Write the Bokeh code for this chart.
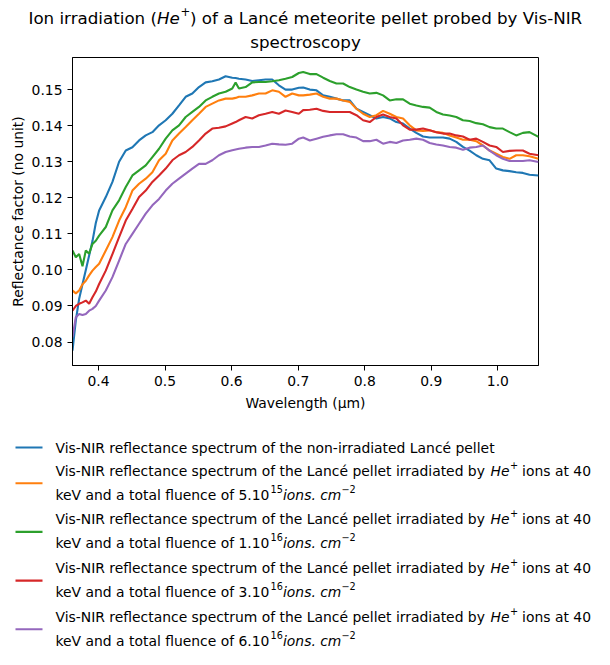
from bokeh.plotting import figure
from bokeh.models import Range1d, FixedTicker, PrintfTickFormatter
from bokeh.layouts import column
from bokeh.core.properties import value
from bokeh.embed import file_html
from bokeh.resources import INLINE

# ---------------- data ----------------
wavelength = [0.361, 0.366, 0.371, 0.376, 0.381, 0.386, 0.391, 0.396,
              0.401, 0.411, 0.421, 0.431, 0.441, 0.451, 0.461, 0.471, 0.481, 0.491,
              0.501, 0.511, 0.521, 0.531, 0.541, 0.551, 0.561, 0.571, 0.581, 0.591, 0.601,
              0.606,
              0.611, 0.621, 0.631, 0.641, 0.651, 0.661, 0.671, 0.681, 0.691, 0.701,
              0.7075, 0.7175, 0.7275, 0.7375, 0.7475, 0.7575, 0.7675, 0.7775, 0.7875, 0.7975,
              0.8075, 0.8175, 0.8275, 0.8375, 0.8475, 0.8575, 0.8675, 0.8775, 0.8875, 0.8975,
              0.9075, 0.9175, 0.9275, 0.9375, 0.9475, 0.9575, 0.9675, 0.9775, 0.9875, 0.9975,
              1.0075, 1.0175, 1.0275, 1.0375, 1.0475,
              1.061]

refl_pristine = [0.0776, 0.0860, 0.0920, 0.0960, 0.1000, 0.1040, 0.1080, 0.1130,
                 0.1165, 0.1202, 0.1244, 0.1300, 0.1331, 0.1340, 0.1359, 0.1373, 0.1382, 0.1401,
                 0.1415, 0.1433, 0.1456, 0.1480, 0.1489, 0.1507, 0.1520, 0.1523, 0.1528, 0.1537, 0.1533,
                 0.1532,
                 0.1530, 0.1528, 0.1524, 0.1526, 0.1528, 0.1528, 0.1512, 0.1500, 0.1500, 0.1505,
                 0.1506, 0.1500, 0.1498, 0.1484, 0.1480, 0.1475, 0.1470, 0.1470, 0.1447, 0.1438,
                 0.1429, 0.1420, 0.1424, 0.1420, 0.1410, 0.1406, 0.1392, 0.1380, 0.1370, 0.1367,
                 0.1367, 0.1367, 0.1364, 0.1355, 0.1341, 0.1331, 0.1318, 0.1308, 0.1304, 0.1281,
                 0.1276, 0.1274, 0.1271, 0.1269, 0.1264,
                 0.1262]

refl_5e15 = [0.0943, 0.0935, 0.0943, 0.0960, 0.0970, 0.0985, 0.0998, 0.1008,
             0.1017, 0.1054, 0.1091, 0.1137, 0.1174, 0.1220, 0.1239, 0.1253, 0.1271, 0.1304,
             0.1322, 0.1359, 0.1378, 0.1396, 0.1415, 0.1433, 0.1452, 0.1461, 0.1470, 0.1475, 0.1475,
             0.1477,
             0.1480, 0.1480, 0.1484, 0.1489, 0.1489, 0.1498, 0.1494, 0.1480, 0.1489, 0.1484,
             0.1484, 0.1486, 0.1489, 0.1480, 0.1475, 0.1475, 0.1470, 0.1466, 0.1447, 0.1433,
             0.1424, 0.1429, 0.1441, 0.1433, 0.1424, 0.1420, 0.1401, 0.1387, 0.1385, 0.1387,
             0.1382, 0.1380, 0.1373, 0.1367, 0.1361, 0.1361, 0.1357, 0.1345, 0.1331, 0.1322,
             0.1313, 0.1308, 0.1318, 0.1318, 0.1315,
             0.1308]

refl_1e16 = [0.1054, 0.1035, 0.1044, 0.1010, 0.1054, 0.1045, 0.1072, 0.1081,
             0.1095, 0.1119, 0.1165, 0.1193, 0.1230, 0.1262, 0.1276, 0.1290, 0.1313, 0.1336,
             0.1364, 0.1387, 0.1401, 0.1424, 0.1438, 0.1452, 0.1470, 0.1480, 0.1489, 0.1494, 0.1503,
             0.1520,
             0.1503, 0.1507, 0.1520, 0.1521, 0.1521, 0.1523, 0.1526, 0.1530, 0.1535, 0.1546,
             0.1549, 0.1543, 0.1543, 0.1533, 0.1524, 0.1517, 0.1517, 0.1507, 0.1500, 0.1494,
             0.1489, 0.1491, 0.1484, 0.1470, 0.1473, 0.1473, 0.1461, 0.1456, 0.1452, 0.1450,
             0.1438, 0.1431, 0.1428, 0.1424, 0.1415, 0.1413, 0.1407, 0.1404, 0.1396, 0.1392,
             0.1392, 0.1382, 0.1373, 0.1380, 0.1382,
             0.1369]

refl_3e16 = [0.0887, 0.0900, 0.0906, 0.0910, 0.0915, 0.0906, 0.0924, 0.0940,
             0.0961, 0.0998, 0.1044, 0.1091, 0.1137, 0.1169, 0.1202, 0.1220, 0.1244, 0.1262,
             0.1281, 0.1304, 0.1318, 0.1327, 0.1341, 0.1359, 0.1378, 0.1392, 0.1394, 0.1398, 0.1406,
             0.1410,
             0.1415, 0.1424, 0.1420, 0.1429, 0.1433, 0.1438, 0.1433, 0.1442, 0.1438, 0.1433,
             0.1443, 0.1444, 0.1447, 0.1441, 0.1438, 0.1438, 0.1438, 0.1438, 0.1429, 0.1415,
             0.1410, 0.1424, 0.1431, 0.1424, 0.1420, 0.1401, 0.1389, 0.1389, 0.1392, 0.1387,
             0.1382, 0.1378, 0.1378, 0.1373, 0.1370, 0.1361, 0.1364, 0.1355, 0.1345, 0.1341,
             0.1327, 0.1330, 0.1331, 0.1331, 0.1322,
             0.1318]

refl_6e16 = [0.0813, 0.0869, 0.0878, 0.0875, 0.0878, 0.0887, 0.0892, 0.0900,
             0.0915, 0.0943, 0.0980, 0.1026, 0.1072, 0.1100, 0.1128, 0.1156, 0.1179, 0.1197,
             0.1220, 0.1239, 0.1253, 0.1267, 0.1281, 0.1294, 0.1294, 0.1304, 0.1318, 0.1327, 0.1332,
             0.1334,
             0.1336, 0.1339, 0.1341, 0.1341, 0.1345, 0.1350, 0.1348, 0.1347, 0.1350, 0.1364,
             0.1367, 0.1359, 0.1364, 0.1369, 0.1373, 0.1376, 0.1376, 0.1370, 0.1367, 0.1357,
             0.1357, 0.1361, 0.1350, 0.1355, 0.1352, 0.1359, 0.1361, 0.1364, 0.1361, 0.1352,
             0.1348, 0.1345, 0.1341, 0.1339, 0.1333, 0.1339, 0.1341, 0.1345, 0.1331, 0.1318,
             0.1308, 0.1302, 0.1302, 0.1302, 0.1304,
             0.1299]

x_ticks = [0.4, 0.5, 0.6, 0.7, 0.8, 0.9, 1.0]
y_ticks = [0.08, 0.09, 0.10, 0.11, 0.12, 0.13, 0.14, 0.15]
colors = ["#1f77b4", "#ff7f0e", "#2ca02c", "#d62728", "#9467bd"]

title_main = "Ion irradiation ("
title_ion = "He"
title_sup = "+"
title_rest = ") of a Lancé meteorite pellet probed by Vis-NIR"
title_line2 = "spectroscopy"

legend_first = "Vis-NIR reflectance spectrum of the non-irradiated Lancé pellet"
legend_prefix = "Vis-NIR reflectance spectrum of the Lancé pellet irradiated by"
legend_ion = "He"
legend_ion_sup = "+"
legend_suffix = "ions at 40"
legend_line2 = "keV and a total fluence of "
fluence_mantissa = ["5.10", "1.10", "3.10", "6.10"]
fluence_exponent = ["15", "16", "16", "16"]
fluence_unit = "ions. cm"
fluence_unit_exp = "\u22122"

x_label = "Wavelength (\u03bcm)"
y_label = "Reflectance factor (no unit)"

# ---------------- styling ----------------
FONT = "DejaVu Sans"
FS = "13.9px"
FS_SMALL = "9.7px"
FS_TITLE = "16.7px"
FS_TITLE_SMALL = "11.7px"
W = 602
DY = 4.5   # baseline correction for text glyphs


def blank(height):
    f = figure(width=W, height=height, x_range=Range1d(0, W), y_range=Range1d(height, 0),
               output_backend="svg", toolbar_location=None, min_border=0,
               x_axis_location=None, y_axis_location=None, frame_align=False)
    f.outline_line_color = None
    f.grid.visible = False
    f.background_fill_color = "white"
    f.border_fill_color = "white"
    return f


def put(f, x, y, s, size=FS, style="normal", align="left"):
    f.text(x=[x], y=[y - DY], text=[s], text_font=value(FONT), text_font_size=size,
           text_font_style=style, text_align=align, text_baseline="alphabetic",
           text_color="black")


# ---------------- title (page coordinates) ----------------
TH = 52
t = blank(TH)
put(t, 156.5, 22, title_main, FS_TITLE, align="right")
put(t, 156.5, 22, title_ion, FS_TITLE, style="italic")
put(t, 180, 15, title_sup, FS_TITLE_SMALL)
put(t, 189.5, 22, title_rest, FS_TITLE)
put(t, 305, 46, title_line2, FS_TITLE, align="center")

# ---------------- main plot (page y 52..420, frame 72..538 x 57..365) ----------------
p = figure(width=W, height=368, x_range=Range1d(0.361, 1.061), y_range=Range1d(0.0735, 0.1589),
           output_backend="svg", toolbar_location=None, frame_align=False,
           min_border_left=72, min_border_right=64, min_border_top=5, min_border_bottom=55)
p.grid.visible = False
p.background_fill_color = "white"
p.border_fill_color = "white"
p.outline_line_color = "black"
p.outline_line_width = 1
p.outline_line_alpha = 1

p.xaxis.ticker = FixedTicker(ticks=x_ticks)
p.xaxis.formatter = PrintfTickFormatter(format="%.1f")
p.yaxis.ticker = FixedTicker(ticks=y_ticks)
p.yaxis.formatter = PrintfTickFormatter(format="%.2f")
p.xaxis.axis_label = x_label
p.yaxis.axis_label = y_label
for ax in (p.xaxis[0], p.yaxis[0]):
    ax.major_tick_out = 5
    ax.major_tick_in = 0
    ax.minor_tick_out = 0
    ax.minor_tick_in = 0
    ax.major_tick_line_width = 1
    ax.axis_line_width = 1
    ax.major_label_text_font = FONT
    ax.major_label_text_font_size = FS
    ax.major_label_text_color = "black"
    ax.major_label_standoff = 5
    ax.axis_label_text_font = FONT
    ax.axis_label_text_font_size = FS
    ax.axis_label_text_font_style = "normal"
    ax.axis_label_text_color = "black"
p.xaxis.axis_label_standoff = 6
p.yaxis.axis_label_standoff = 3

series = [refl_pristine, refl_5e15, refl_1e16, refl_3e16, refl_6e16]
for ys, c in zip(series, colors):
    p.line(wavelength, ys, line_color=c, line_width=2.1)

# ---------------- legend (page x, page y - 420) ----------------
LH = 237
lg = blank(LH)
HX0, HX1, TX = 15, 42, 55
lg.line([HX0, HX1], [27, 27], line_color=colors[0], line_width=2.1)
put(lg, TX, 32, legend_first)
for k in range(4):
    b1 = 54.7 + 48.7 * k
    b2 = b1 + 24
    my = b1 + 8
    lg.line([HX0, HX1], [my, my], line_color=colors[k + 1], line_width=2.1)
    put(lg, TX, b1, legend_prefix)
    put(lg, 490, b1, legend_ion, style="italic")
    put(lg, 509.5, b1 - 6, legend_ion_sup, FS_SMALL)
    put(lg, 521.6, b1, legend_suffix)
    put(lg, TX, b2, legend_line2 + fluence_mantissa[k])
    put(lg, 270, b2 - 6, fluence_exponent[k], FS_SMALL)
    put(lg, 282.5, b2, fluence_unit, style="italic")
    put(lg, 341, b2 - 6, fluence_unit_exp, FS_SMALL)

layout = column(t, p, lg, spacing=0)
open("out.html", "w").write(file_html(layout, INLINE))
